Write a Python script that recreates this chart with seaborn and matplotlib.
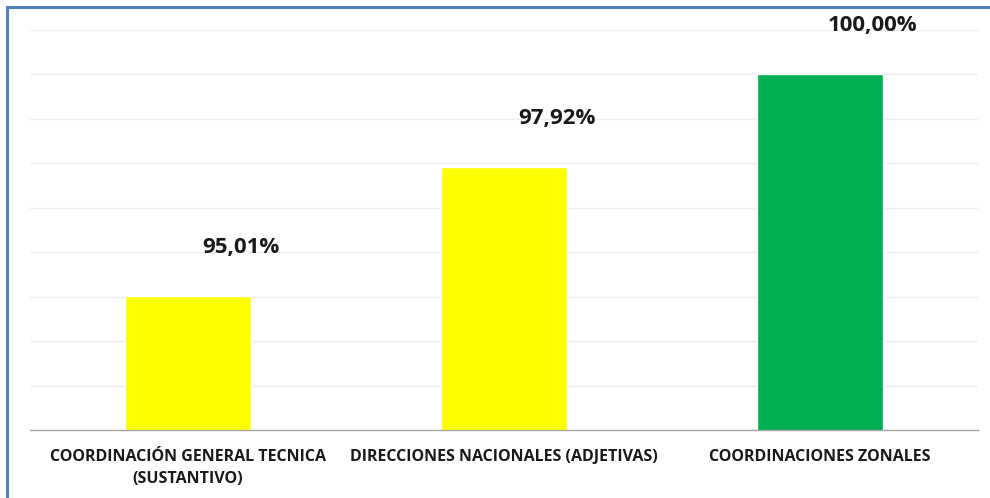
import matplotlib
matplotlib.use('Agg')
import matplotlib.pyplot as plt
import seaborn as sns
import pandas as pd
from matplotlib.patches import Rectangle

categories = ['COORDINACIÓN GENERAL TECNICA\n(SUSTANTIVO)',
              'DIRECCIONES NACIONALES (ADJETIVAS)',
              'COORDINACIONES ZONALES']
values = [95.01, 97.92, 100.00]
value_labels = ['95,01%', '97,92%', '100,00%']
bar_colors = ['#FFFF00', '#FFFF00', '#00B050']

df = pd.DataFrame({'cat': categories, 'val': values})

sns.set_style('white')
plt.rcParams['font.family'] = ['Open Sans', 'DejaVu Sans']

fig = plt.figure(figsize=(9.9, 4.98), dpi=100)
ax = fig.add_axes([30/990, 68/498, 948/990, 400/498])

sns.barplot(data=df, x='cat', y='val', hue='cat', palette=bar_colors,
            width=0.4, legend=False, ax=ax, saturation=1)

ax.set_ylim(92, 101)
ax.set_xlim(-0.5, 2.5)
ax.set_yticks(range(92, 102))
ax.yaxis.grid(True, color='#EFEFEF', linewidth=1)
ax.set_axisbelow(True)
ax.tick_params(axis='y', left=False, labelleft=False)
for s in ['top', 'right', 'left']:
    ax.spines[s].set_visible(False)
ax.spines['bottom'].set_color('#A6A6A6')
ax.spines['bottom'].set_linewidth(1)

ax.set_xticks([0, 1, 2])
ax.set_xticklabels(categories, fontsize=11.5, fontweight='bold', color='#1a1a1a',
                   linespacing=1.5)
ax.set_xticks([-0.5, 0.5, 1.5, 2.5], minor=True)
ax.tick_params(axis='x', which='major', length=0, pad=13.5)
ax.tick_params(axis='x', which='minor', length=6, color='#A6A6A6', width=1)
ax.set_xlabel('')
ax.set_ylabel('')

# value labels sit up and to the right of each bar
for i, (v, lab) in enumerate(zip(values, value_labels)):
    ax.annotate(lab, (i, v), xytext=(38, 35), textcoords='offset points',
                ha='center', va='center', fontsize=16, fontweight='bold',
                color='#1a1a1a', annotation_clip=False)

fig.patches.append(Rectangle((7/990, -0.5), 2, 1 - 7/498 + 0.5,
                             transform=fig.transFigure, fill=False,
                             edgecolor='#4F81BD', linewidth=2.2))

fig.savefig('out.png', dpi=100)
